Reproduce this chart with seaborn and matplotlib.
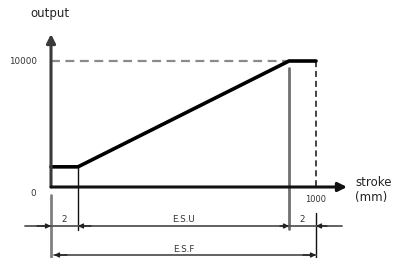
import numpy as np
import pandas as pd
import matplotlib
matplotlib.use("Agg")
import matplotlib.pyplot as plt
import seaborn as sns

# ---- data ----
stroke = [0, 2, 998, 1000]
output = [1600, 1600, 10000, 10000]
y_label = "output"
x_label = "stroke\n(mm)"
y_ticks = [0, 10000]
y_tick_labels = ["0", "10000"]
x_ticks = [1000]
x_tick_labels = ["1000"]
dim_row1 = [(0, 2, "2"), (2, 998, "E.S.U"), (998, 1000, "2")]
dim_row2 = [(0, 1000, "E.S.F")]

sns.set_style("white")
plt.rcParams["font.family"] = ["DejaVu Sans"]

# schematic (non-proportional) stroke scale
nodes_d = np.array([-1000, 0, 2, 998, 1000, 2000], dtype=float)
nodes_u = np.array([-1000, 0, 27, 238, 265, 1265], dtype=float)
def fwd(x):
    return np.interp(x, nodes_d, nodes_u)
def inv(u):
    return np.interp(u, nodes_u, nodes_d)

fig = plt.figure(figsize=(3.97, 2.58), dpi=100)
ax = fig.add_axes([0, 0, 1, 1])
ax.set_xscale("function", functions=(fwd, inv))
ax.set_xlim(inv(-51), inv(346))
k = 10000 / 126.0  # output units per pixel
def py(p):
    return (187 - p) * k
ax.set_ylim(py(258), py(0))
ax.axis("off")

df = pd.DataFrame({"stroke": stroke, "output": output})

# reference dashed lines
ax.plot([stroke[0], stroke[2]], [y_ticks[1], y_ticks[1]], color="#8a8a8a",
        lw=1.6, ls=(0, (4, 2.5)))
ax.plot([stroke[3], stroke[3]], [y_ticks[1], 0], color="#111", lw=1.1,
        ls=(0, (4, 2.5)))

# axes arrows
ax.annotate("", xy=(0, py(34)), xytext=(0, 0),
            arrowprops=dict(arrowstyle="-|>", lw=2.2, color="#3a3a3a",
                            mutation_scale=13, shrinkA=0, shrinkB=0))
ax.annotate("", xy=(inv(296), 0), xytext=(0, 0),
            arrowprops=dict(arrowstyle="-|>", lw=2.2, color="#111",
                            mutation_scale=13, shrinkA=0, shrinkB=0))

# main curve
sns.lineplot(data=df, x="stroke", y="output", color="black", lw=2.6,
             ax=ax, sort=False)

# extension lines
ax.plot([stroke[2], stroke[2]], [py(68), py(229)], color="#707070", lw=2.0)
ax.plot([stroke[1], stroke[1]], [output[1], py(230)], color="#111", lw=1.0)
ax.plot([stroke[3], stroke[3]], [py(213), py(258)], color="#111", lw=1.0)
ax.plot([stroke[0], stroke[0]], [py(195), py(258)], color="#808080", lw=2.0)

# dimension row 1
r1 = py(226)
ax.plot([inv(-26), inv(291)], [r1, r1], color="#555", lw=1.3)
def head(x_tip, x_from, y):
    ax.annotate("", xy=(x_tip, y), xytext=(x_from, y),
                arrowprops=dict(arrowstyle="-|>", lw=1.0, color="#222",
                                mutation_scale=7, shrinkA=0, shrinkB=0))
head(stroke[0], inv(-14), r1)
head(stroke[1], inv(40), r1)
head(stroke[2], inv(229), r1)
head(stroke[3], inv(276), r1)
for a, b, lab in dim_row1:
    xm = inv((fwd(a) + fwd(b)) / 2)
    ax.text(xm, py(219), lab, ha="center", va="center", fontsize=6.3,
            color="#333")

# dimension row 2
r2 = py(255)
ax.plot([inv(3), stroke[3]], [r2, r2], color="#555", lw=1.3)
head(inv(3), inv(16), r2)
head(stroke[3], inv(252), r2)
for a, b, lab in dim_row2:
    xm = inv((fwd(a) + fwd(b)) / 2)
    ax.text(xm, py(250), lab, ha="center", va="center", fontsize=6.3,
            color="#333")

# labels
ax.text(inv(-1), py(14), y_label, ha="center", va="center", fontsize=8.5,
        color="#222")
ax.text(inv(304), py(190), x_label, ha="left", va="center", fontsize=8.5,
        color="#222", linespacing=1.1)
ax.text(inv(-28), py(61), y_tick_labels[1], ha="center", va="center",
        fontsize=6.3, color="#333")
ax.text(inv(-18), py(193), y_tick_labels[0], ha="center", va="center",
        fontsize=6.3, color="#333")
ax.text(x_ticks[0], py(199), x_tick_labels[0], ha="center", va="center",
        fontsize=6.0, color="#333")

fig.savefig("out.png", dpi=100)
